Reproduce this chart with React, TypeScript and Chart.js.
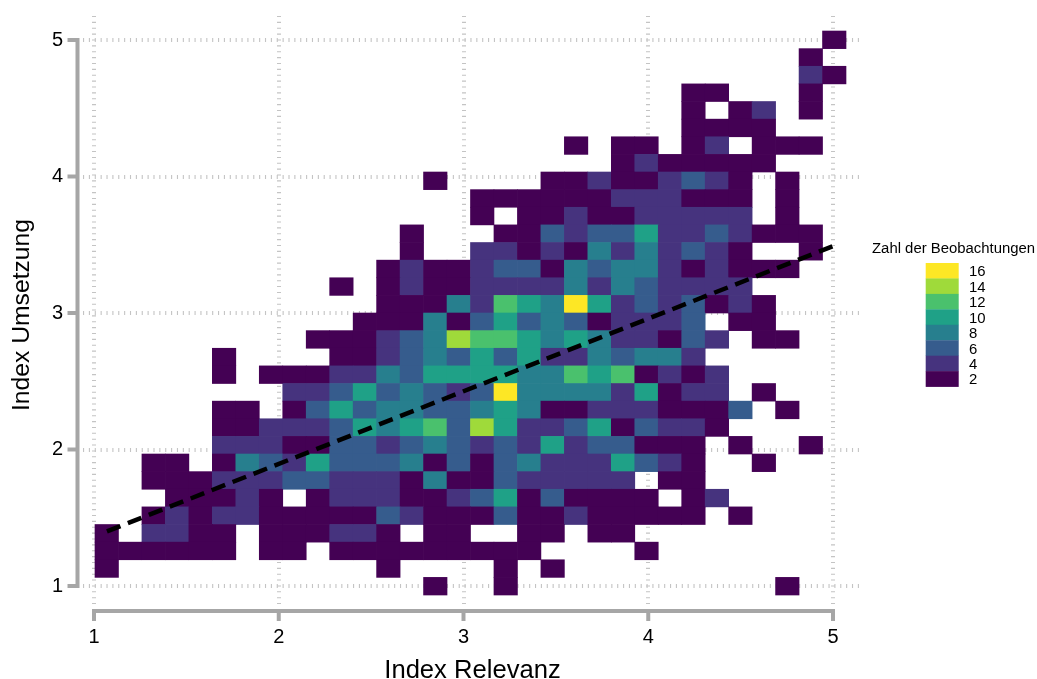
import React, { useEffect, useRef } from "react";
import { Chart, registerables } from "chart.js";

Chart.register(...registerables);

// Each row is one horizontal bin (top row first); each digit = count / 2, 0 = empty bin.
const countRowsTopDown: string[] = [
  "00000000000000000000000000000001",
  "00000000000000000000000000000010",
  "00000000000000000000000000000021",
  "00000000000000000000000001100010",
  "00000000000000000000000001012010",
  "00000000000000000000000001111000",
  "00000000000000000000101101201110",
  "00000000000000000000001211111000",
  "00000000000000100001121123210100",
  "00000000000000001111112221110100",
  "00000000000000001011211222220100",
  "00000000000001000113233522321110",
  "00000000000001002212142423210010",
  "00000000000012112331434421211100",
  "00000000001012112222424322220000",
  "00000000000011142654852323121000",
  "00000000000111413534312223011000",
  "00000000011123476654542213201100",
  "00000100001123435352243442000000",
  "00000101112243555544656121200000",
  "00000000223534323844442512201000",
  "00000110135344334541122211130100",
  "00000112223545637522351322100000",
  "00000222113323432325233111010010",
  "00110143253334131342225321001000",
  "00111222332221411322222011000000",
  "00011121012221123513111101200000",
  "00121221111132111311211111010000",
  "10221101112210110011011000000000",
  "11111101101111111110000100000000",
  "10000000000010000101000000000000",
  "00000000000000100100000000000100",
];
const legendCounts: number[] = [16, 14, 12, 10, 8, 6, 4, 2];
const levelColors: string[] = ["#440154", "#46337E", "#365C8D", "#277F8E", "#1FA187", "#4AC16D", "#9FDA3A", "#FDE725"];
const tickValues: number[] = [1, 2, 3, 4, 5];
const trendX: number[] = [1.07, 5];
const trendY: number[] = [1.4, 3.49];
const xBinStart = 1.0054;
const xBinWidth = 0.12703;
const yBinStart = 0.934;
const yBinHeight = 0.12912;

const FONT = "'Liberation Sans', Arial, sans-serif";
const AXIS_GREY = "#a6a6a6";
const GRID_GREY = "#c4c4c4";

type Cell = { x: number; y: [number, number]; level: number };
const cells: Cell[] = [];
countRowsTopDown.forEach((row, r) => {
  const j = countRowsTopDown.length - 1 - r;
  row.split("").forEach((ch, i) => {
    const level = Number(ch);
    if (level > 0) {
      cells.push({
        x: xBinStart + xBinWidth * (i + 0.5),
        y: [yBinStart + yBinHeight * j, yBinStart + yBinHeight * (j + 1)],
        level,
      });
    }
  });
});

const axesAndLegend = {
  id: "axesAndLegend",
  afterDraw(chart: any) {
    const { ctx } = chart;
    const xs = chart.scales.x;
    const ys = chart.scales.y;
    ctx.save();
    ctx.strokeStyle = AXIS_GREY;
    ctx.lineWidth = 4;
    ctx.lineCap = "butt";
    ctx.lineJoin = "miter";
    const axisY = 611;
    const axisX = 77.5;
    // x axis line, capped to the tick range, with ticks
    const x1 = xs.getPixelForValue(tickValues[0]);
    const x5 = xs.getPixelForValue(tickValues[tickValues.length - 1]);
    ctx.beginPath();
    ctx.moveTo(x1 - 2, axisY);
    ctx.lineTo(x5 + 2, axisY);
    ctx.stroke();
    tickValues.forEach((v) => {
      const px = xs.getPixelForValue(v);
      ctx.beginPath();
      ctx.moveTo(px, axisY);
      ctx.lineTo(px, 621);
      ctx.stroke();
    });
    // y axis line with ticks
    const y1 = ys.getPixelForValue(tickValues[0]);
    const y5 = ys.getPixelForValue(tickValues[tickValues.length - 1]);
    ctx.beginPath();
    ctx.moveTo(axisX, y1 + 2);
    ctx.lineTo(axisX, y5 - 2);
    ctx.stroke();
    tickValues.forEach((v) => {
      const py = ys.getPixelForValue(v);
      ctx.beginPath();
      ctx.moveTo(axisX, py);
      ctx.lineTo(67.5, py);
      ctx.stroke();
    });
    // y axis title
    ctx.save();
    ctx.translate(31, 315);
    ctx.rotate(-Math.PI / 2);
    ctx.fillStyle = "#000";
    ctx.font = `24.7px ${FONT}`;
    ctx.textAlign = "center";
    ctx.textBaseline = "alphabetic";
    ctx.fillText("Index Umsetzung", 0, -2.5);
    ctx.restore();
    // legend
    const top = 263;
    const h = 15.45;
    ctx.fillStyle = "#000";
    ctx.font = `14.9px ${FONT}`;
    ctx.textAlign = "left";
    ctx.textBaseline = "alphabetic";
    ctx.fillText("Zahl der Beobachtungen", 872, 252.5);
    legendCounts.forEach((count, k) => {
      const level = count / 2;
      ctx.fillStyle = levelColors[level - 1];
      ctx.fillRect(925.7, top + k * h, 33, h + 0.3);
      ctx.fillStyle = "#000";
      ctx.textBaseline = "middle";
      ctx.fillText(String(count), 969, top + k * h + h / 2 + 1.5);
    });
    ctx.restore();
  },
};

export default function App() {
  const ref = useRef<HTMLCanvasElement | null>(null);
  useEffect(() => {
    document.body.style.margin = "0";
    const chart = new Chart(ref.current as HTMLCanvasElement, {
      type: "bar",
      data: {
        datasets: [
          {
            type: "line",
            data: trendX.map((x, i) => ({ x, y: trendY[i] })),
            borderColor: "#000",
            borderWidth: 4.5,
            borderDash: [14.5, 8],
            pointRadius: 0,
            order: 0,
            tension: 0,
          } as any,
          {
            type: "bar",
            data: cells as any,
            backgroundColor: (c: any) => levelColors[(c.raw?.level ?? 1) - 1],
            barPercentage: 1,
            categoryPercentage: 1,
            grouped: false,
            order: 1,
          } as any,
        ],
      },
      options: {
        responsive: false,
        animation: false,
        events: [],
        layout: { padding: { left: 0, top: 16, right: 175, bottom: 0 } },
        plugins: { legend: { display: false }, tooltip: { enabled: false }, title: { display: false } },
        scales: {
          x: {
            type: "linear",
            offset: false,
            min: 1 - 11 / 184.75,
            max: 5 + 29 / 184.75,
            afterBuildTicks: (s: any) => {
              s.ticks = tickValues.map((value) => ({ value }));
            },
            afterFit: (s: any) => {
              s.height = 679 - 606;
              s.paddingLeft = 0;
              s.paddingRight = 0;
            },
            ticks: {
              autoSkip: false,
              maxRotation: 0,
              padding: 19,
              color: "#000",
              font: { family: FONT, size: 20 },
              callback: (v: any) => String(v),
            },
            grid: { color: GRID_GREY, lineWidth: 4, drawTicks: false, tickLength: 0, offset: false },
            border: { display: false, dash: [1.1, 4.77] },
            title: {
              display: true,
              text: "Index Relevanz",
              color: "#000",
              font: { family: FONT, size: 25.6 },
              padding: { top: 0, bottom: -7 },
            },
          },
          y: {
            type: "linear",
            min: 1 - 20 / 136.5,
            max: 5 + 24 / 136.5,
            afterBuildTicks: (s: any) => {
              s.ticks = tickValues.map((value) => ({ value }));
            },
            afterFit: (s: any) => {
              s.width = 83;
              s.paddingTop = 0;
              s.paddingBottom = 0;
            },
            ticks: {
              autoSkip: false,
              padding: 20,
              color: "#000",
              font: { family: FONT, size: 20 },
              callback: (v: any) => String(v),
            },
            grid: { color: GRID_GREY, lineWidth: 4, drawTicks: false, tickLength: 0, offset: false },
            border: { display: false, dash: [1.1, 4.77] },
          },
        },
      } as any,
      plugins: [axesAndLegend],
    });
    return () => chart.destroy();
  }, []);
  return <canvas ref={ref} width={1037} height={679} style={{ display: "block" }} />;
}
